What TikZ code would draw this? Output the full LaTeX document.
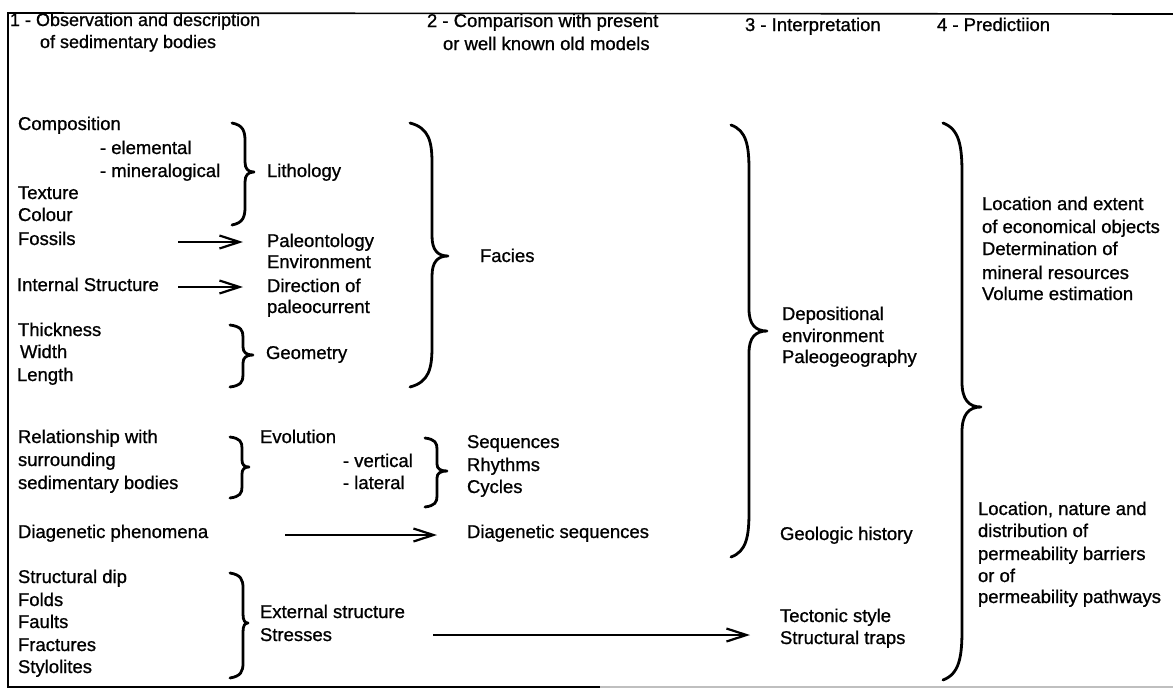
\documentclass[tikz,border=0pt]{standalone}
\usepackage{fontspec}
\setmainfont[FakeBold=0.9]{Liberation Sans}
\usetikzlibrary{arrows.meta}
\newcommand\curlybrace[8]{%
 \draw[bracestyle] (#1,#4) .. controls ({#1+0.85*(#2-#1)},{#4+0.12*#7}) and (#2,{#4+0.45*#7}) .. (#2,{#4+#7})
  -- (#2,{#5-#8}) .. controls (#2,{#5-0.3*#8}) and ({#2+0.35*(#3-#2)},#5) .. (#3,#5)
  .. controls ({#2+0.35*(#3-#2)},#5) and (#2,{#5+0.3*#8}) .. (#2,{#5+#8})
  -- (#2,{#6-#7}) .. controls (#2,{#6-0.45*#7}) and ({#1+0.85*(#2-#1)},{#6-0.12*#7}) .. (#1,#6);}
\begin{document}
\begin{tikzpicture}[x=1pt,y=-1pt,
  t/.style={anchor=base west,inner sep=0pt,outer sep=0pt,font=\fontsize{18.5}{22}\selectfont},
  bracestyle/.style={line width=2.8pt,line cap=round,line join=round},
  arr/.style={line width=2.2pt,-{Straight Barb[length=20pt,width=13pt,line width=2.2pt]}},
  frame/.style={line width=1.6pt}]
\useasboundingbox (0,0) rectangle (1173,691);
% frame
\draw[frame] (1173,14) -- (8,13) -- (8,687) -- (600,687);
\draw[frame,black!25] (600,687) -- (1173,687);
% headers
\node[t,font=\fontsize{18}{22}\selectfont] (h1a) at (10,26) {1 - Observation and description};
\node[t,font=\fontsize{18}{22}\selectfont] (h1b) at (40,48) {of sedimentary bodies};
\node[t] (h2a) at (427,27) {2 - Comparison with present};
\node[t] (h2b) at (443,50) {or well known old models};
\node[t] (h3) at (745,31) {3 - Interpretation};
\node[t] (h4) at (937,31) {4 - Predictiion};
% column 1
\node[t] (comp) at (18,130) {Composition};
\node[t] (elem) at (100,154) {- elemental};
\node[t] (miner) at (100,177) {- mineralogical};
\node[t] (texture) at (18,199) {Texture};
\node[t] (colour) at (18,221) {Colour};
\node[t] (fossils) at (18,245) {Fossils};
\node[t] (intstr) at (17,291) {Internal Structure};
\node[t] (thick) at (18,336) {Thickness};
\node[t] (width) at (20,358) {Width};
\node[t] (length) at (17,381) {Length};
\node[t] (relat) at (18,443) {Relationship with};
\node[t] (surr) at (18,466) {surrounding};
\node[t] (sedbod) at (18,489) {sedimentary bodies};
\node[t] (diagph) at (18,538) {Diagenetic phenomena};
\node[t] (sdip) at (18,583) {Structural dip};
\node[t] (folds) at (18,606) {Folds};
\node[t] (faults) at (18,628) {Faults};
\node[t] (fract) at (18,651) {Fractures};
\node[t] (stylo) at (18,673) {Stylolites};
% column 1b
\node[t] (litho) at (267,177) {Lithology};
\node[t] (paleo) at (267,247) {Paleontology};
\node[t] (env) at (267,268) {Environment};
\node[t] (dir) at (267,292) {Direction of};
\node[t] (paleoc) at (267,313) {paleocurrent};
\node[t] (geom) at (266,359) {Geometry};
\node[t] (evol) at (260,443) {Evolution};
\node[t] (vert) at (343,467) {- vertical};
\node[t] (lat) at (343,489) {- lateral};
\node[t] (extstr) at (260,618) {External structure};
\node[t] (stress) at (260,641) {Stresses};
% column 2
\node[t] (facies) at (480,262) {Facies};
\node[t] (seq) at (467,448) {Sequences};
\node[t] (rhy) at (467,471) {Rhythms};
\node[t] (cyc) at (467,493) {Cycles};
\node[t] (diagseq) at (467,538) {Diagenetic sequences};
% column 3
\node[t] (depo) at (782,320) {Depositional};
\node[t] (envir) at (782,342) {environment};
\node[t] (paleog) at (782,363) {Paleogeography};
\node[t] (geohist) at (780,540) {Geologic history};
\node[t] (tect) at (780,622) {Tectonic style};
\node[t] (strtrap) at (780,644) {Structural traps};
% column 4
\node[t] (loc1) at (982,210) {Location and extent};
\node[t] (loc2) at (982,233) {of economical objects};
\node[t] (det1) at (982,255) {Determination of};
\node[t] (det2) at (982,279) {mineral resources};
\node[t] (vol) at (982,300) {Volume estimation};
\node[t] (lnat) at (978,515) {Location, nature and};
\node[t] (dist) at (978,537) {distribution of};
\node[t] (perm1) at (978,560) {permeability barriers};
\node[t] (orof) at (978,582) {or of};
\node[t] (perm2) at (978,603) {permeability pathways};
% arrows
\coordinate (a1s) at (178,242); \coordinate (a1e) at (243,242);
\coordinate (a2s) at (178,287); \coordinate (a2e) at (243,287);
\coordinate (a3s) at (285,535); \coordinate (a3e) at (437,535);
\coordinate (a4s) at (433,635); \coordinate (a4e) at (750,635);
\draw[arr] (a1s) -- (a1e);
\draw[arr] (a2s) -- (a2e);
\draw[arr] (a3s) -- (a3e);
\draw[arr] (a4s) -- (a4e);
% braces: xl xs xt yt ym yb r tip
\curlybrace{232}{245}{254}{123}{172}{225}{18}{10}
\curlybrace{230}{243}{253}{325}{355}{387}{12}{8}
\curlybrace{410}{432}{448}{123}{256}{387}{40}{20}
\curlybrace{731}{749}{767}{125}{331}{557}{45}{22}
\curlybrace{943}{962}{981}{123}{407}{680}{50}{25}
\curlybrace{230}{242}{249}{437}{467}{498}{11}{7}
\curlybrace{425}{437}{447}{438}{471}{507}{11}{7}
\curlybrace{230}{243}{248}{573}{623}{678}{15}{9}
\end{tikzpicture}
\end{document}
